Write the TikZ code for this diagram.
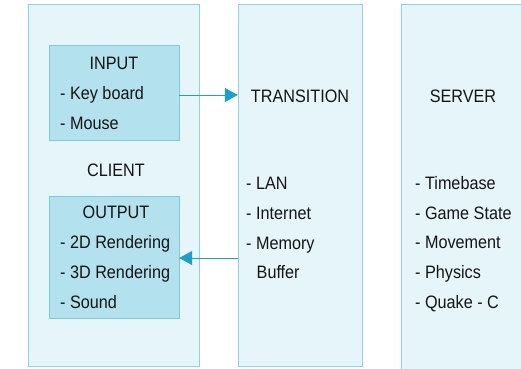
\documentclass[tikz,border=0pt]{standalone}
\usepackage{fontspec}
\setmainfont{Liberation Sans}[FakeStretch=0.9]
\usetikzlibrary{arrows.meta}
\definecolor{outerfill}{HTML}{E6F5FA}
\definecolor{outerdraw}{HTML}{8ED3E4}
\definecolor{innerfill}{HTML}{B3E1EE}
\definecolor{innerdraw}{HTML}{7CCBE0}
\definecolor{arrowc}{HTML}{1E9FC8}
\definecolor{txt}{HTML}{151515}
\tikzset{
  outerbox/.style={draw=outerdraw, fill=outerfill, line width=1pt},
  innerbox/.style={draw=innerdraw, fill=innerfill, line width=1pt},
  lbl/.style={font=\fontsize{18pt}{21pt}\selectfont, text=txt, inner sep=0pt},
  item/.style={lbl, anchor=base west},
  ttl/.style={lbl, anchor=base},
  conn/.style={draw=arrowc, line width=1pt, -{Triangle[length=13pt,width=14pt]}}
}
\begin{document}
\begin{tikzpicture}[x=1pt,y=-1pt]
\useasboundingbox (0,0) rectangle (521,368);
\clip (0,0) rectangle (521,368);
% outer boxes
\path[outerbox] (28,4) rectangle (199,366);
\node[inner sep=0pt, minimum width=171pt, minimum height=362pt] (client) at (113.5,185) {};
\path[outerbox] (238,4) rectangle (362,366);
\node[inner sep=0pt, minimum width=124pt, minimum height=362pt] (trans) at (300,185) {};
\path[outerbox] (401,4) rectangle (560,400);
\node[inner sep=0pt] (server) at (480,185) {};
% inner boxes
\path[innerbox] (49,45) rectangle (179,140);
\node[inner sep=0pt, minimum width=130pt, minimum height=95pt] (input) at (114,92.5) {};
\path[innerbox] (49,196) rectangle (179,318);
\node[inner sep=0pt, minimum width=130pt, minimum height=122pt] (output) at (114,257) {};
% client texts
\node[ttl] (tin) at (114,69.5) {INPUT};
\node[item] (kb) at (60,99.5) {- Key board};
\node[item] (ms) at (60,129.5) {- Mouse};
\node[ttl] (tcl) at (116,176.5) {CLIENT};
\node[ttl] (tout) at (116,218.5) {OUTPUT};
\node[item] (r2) at (60,248.5) {- 2D Rendering};
\node[item] (r3) at (60,278.5) {- 3D Rendering};
\node[item] (snd) at (60,308.5) {- Sound};
% transition texts
\node[ttl] (ttr) at (300,102.5) {TRANSITION};
\node[item] (lan) at (246,189.5) {- LAN};
\node[item] (inet) at (246,219.5) {- Internet};
\node[item] (mem) at (246,249.5) {- Memory};
\node[item] (buf) at (256.5,278.5) {Buffer};
% server texts
\node[ttl] (tsv) at (463,102.5) {SERVER};
\node[item] (tb) at (415,189.5) {- Timebase};
\node[item] (gs) at (415,219.5) {- Game State};
\node[item] (mv) at (415,248.5) {- Movement};
\node[item] (ph) at (415,278.5) {- Physics};
\node[item] (qc) at (415,308.5) {- Quake - C};
% connectors
\draw[conn] (input.east |- 0,95) -- (trans.west |- 0,95);
\draw[conn] (trans.west |- 0,258) -- (output.east |- 0,258);
\end{tikzpicture}
\end{document}
